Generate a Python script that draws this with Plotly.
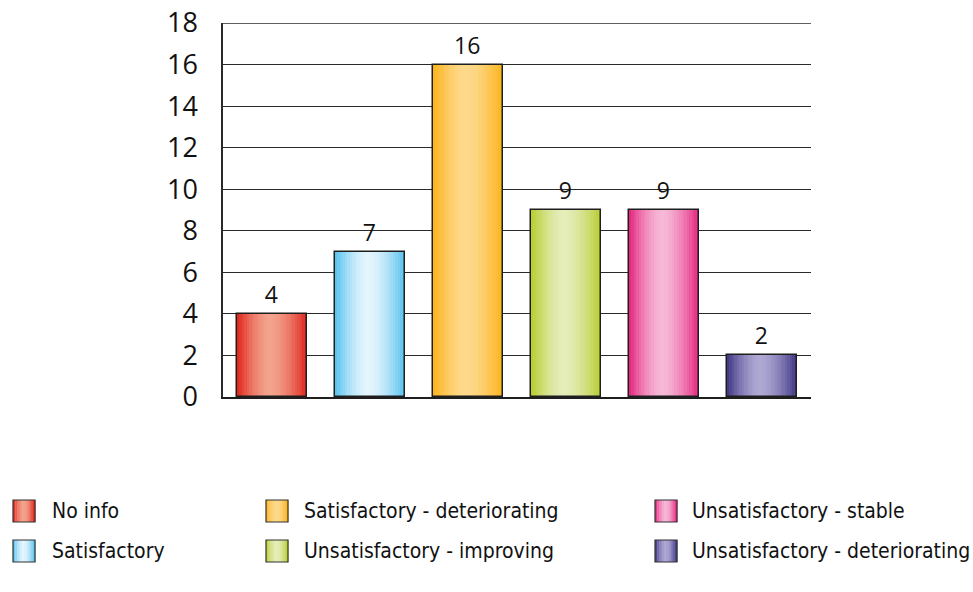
import plotly.graph_objects as go

# Status categories and the number of water bodies in each
categories = ["No info", "Satisfactory", "Satisfactory - deteriorating",
              "Unsatisfactory - improving", "Unsatisfactory - stable",
              "Unsatisfactory - deteriorating"]
counts = [4, 7, 16, 9, 9, 2]

# Edge and highlight colour of each bar's cylinder shading
edge_colors = ["#df2219", "#52c0ee", "#fbb214", "#b6cc2b", "#e41f7b", "#3b3282"]
light_colors = ["#f3a38d", "#e4f5fd", "#fed98d", "#e5edb9", "#f6b8d7", "#aea8d3"]

y_ticks = [0, 2, 4, 6, 8, 10, 12, 14, 16, 18]

BAR_W = 0.72
N_STRIPS = 28
TEXT_FONT = "Open Sans"
LEGEND_FONT = "DejaVu Sans Condensed, DejaVu Sans"


def hex_rgb(h):
    h = h.lstrip("#")
    return tuple(int(h[i:i + 2], 16) for i in (0, 2, 4))


def shade(edge, light, t):
    # brightest slightly left of centre, darkening towards both edges
    peak = 0.47
    d = (t - peak) / (peak if t < peak else 1 - peak)
    f = max(0.0, 1 - abs(d) ** 1.6)
    e, l = hex_rgb(edge), hex_rgb(light)
    c = [round(e[k] + (l[k] - e[k]) * f) for k in range(3)]
    return "rgb(%d,%d,%d)" % tuple(c)


fig = go.Figure()

# vertical strips that build the horizontal gradient on every bar
for i in range(N_STRIPS):
    t = (i + 0.5) / N_STRIPS
    fig.add_trace(go.Bar(
        x=categories, y=counts,
        width=BAR_W / N_STRIPS * 1.06,
        offset=-BAR_W / 2 + i * BAR_W / N_STRIPS,
        marker=dict(color=[shade(e, l, t) for e, l in zip(edge_colors, light_colors)],
                    line=dict(width=0)),
        showlegend=False, hoverinfo="skip",
    ))

# outline and value labels
fig.add_trace(go.Bar(
    x=categories, y=counts, width=BAR_W, offset=-BAR_W / 2,
    marker=dict(color="rgba(0,0,0,0)", line=dict(color="#1e1e1e", width=1.5)),
    text=[str(v) for v in counts], textposition="outside",
    textfont=dict(family=TEXT_FONT, size=23, color="#111"),
    cliponaxis=False, showlegend=False,
))

# plot area in pixels, used to place the legend below it
L, R, T, B = 223, 811, 23, 397
PW, PH = R - L, B - T


def px(xp):
    return (xp - L) / PW


def py(yp):
    return (B - yp) / PH


shapes, annotations = [], []

# top frame line at the axis maximum
shapes.append(dict(type="line", xref="paper", yref="y", x0=0, x1=1,
                   y0=y_ticks[-1], y1=y_ticks[-1], line=dict(color="#2a2a2a", width=1.4)))

col_sq = [13, 266, 655]
col_tx = [50, 302, 690]
row_y = [511, 551]
SQ = 22
for idx, name in enumerate(categories):
    c, r = idx // 2, idx % 2
    x0, yc = col_sq[c], row_y[r]
    n = 10
    for k in range(n):
        t = (k + 0.5) / n
        shapes.append(dict(type="rect", xref="paper", yref="paper",
                           x0=px(x0 + k * SQ / n), x1=px(x0 + (k + 1) * SQ / n + 0.4),
                           y0=py(yc + SQ / 2), y1=py(yc - SQ / 2),
                           fillcolor=shade(edge_colors[idx], light_colors[idx], t),
                           line=dict(width=0), layer="above"))
    shapes.append(dict(type="rect", xref="paper", yref="paper",
                       x0=px(x0), x1=px(x0 + SQ), y0=py(yc + SQ / 2), y1=py(yc - SQ / 2),
                       line=dict(color="#333", width=1.2), layer="above"))
    annotations.append(dict(text='<span style="font-stretch:condensed">%s</span>' % name,
                            xref="paper", yref="paper",
                            x=px(col_tx[c]), y=py(yc), xanchor="left", yanchor="middle",
                            showarrow=False,
                            font=dict(family=LEGEND_FONT, size=21, color="#111")))

fig.update_layout(
    width=973, height=592,
    margin=dict(l=L, r=973 - R, t=T, b=592 - B, autoexpand=False),
    paper_bgcolor="white", plot_bgcolor="white",
    barmode="overlay", bargap=0,
    showlegend=False,
    shapes=shapes, annotations=annotations,
    xaxis=dict(type="category", categoryorder="array", categoryarray=categories,
               showticklabels=False, ticks="", showgrid=False, automargin=False,
               showline=True, linecolor="#1e1e1e", linewidth=2, zeroline=False),
    yaxis=dict(range=[0, 18], tickvals=y_ticks, ticks="", automargin=False,
               showgrid=True, gridcolor="#2a2a2a", gridwidth=1.4,
               showline=True, linecolor="#2a2a2a", linewidth=1.5, zeroline=False,
               tickfont=dict(family=TEXT_FONT, size=27, color="#111"), ticklabelstandoff=18),
)

fig.write_html("out.html")
